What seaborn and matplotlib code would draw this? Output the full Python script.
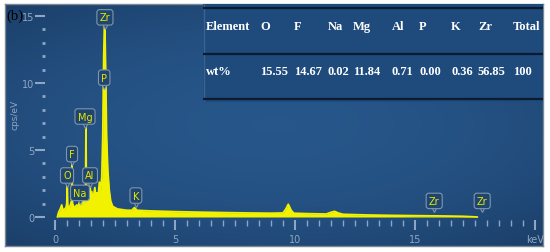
import numpy as np
import pandas as pd
import seaborn as sns
import matplotlib.pyplot as plt
from matplotlib.colors import LinearSegmentedColormap

# EDS spectrum (keV vs cps/eV)
energy_kev = [0.10, 0.15, 0.22, 0.28, 0.33, 0.40, 0.46, 0.49, 0.51, 0.53, 0.58, 0.64,
              0.69, 0.71, 0.73, 0.78, 0.84, 0.90, 0.96, 1.02, 1.06, 1.12, 1.18, 1.24,
              1.27, 1.29, 1.31, 1.36, 1.41, 1.44, 1.46, 1.48, 1.53, 1.57, 1.61, 1.66,
              1.70, 1.74, 1.80, 1.85, 1.90, 1.95, 1.99, 2.03, 2.07, 2.11, 2.15, 2.20,
              2.26, 2.32, 2.40, 2.50, 2.60, 2.80, 3.00, 3.20, 3.31, 3.42, 4.0, 5.0,
              6.0, 7.0, 8.0, 9.0, 9.5, 9.62, 9.72, 9.84, 9.95, 10.5, 11.3, 11.5,
              11.65, 11.8, 12.0, 13.0, 14.0, 15.0, 16.0, 17.0, 17.6]
counts = [0.0, 0.35, 0.6, 0.9, 0.5, 0.6, 0.7, 1.0, 2.5, 0.9, 0.6, 0.9,
          1.2, 4.1, 1.0, 0.8, 0.7, 0.9, 0.8, 1.1, 0.9, 1.0, 1.2, 1.1,
          1.6, 6.7, 1.5, 1.3, 1.4, 1.6, 2.7, 1.5, 1.9, 1.3, 1.6, 2.2,
          1.5, 1.8, 1.6, 2.6, 2.0, 3.0, 6.0, 12.0, 15.2, 11.0, 6.0, 3.5,
          2.0, 1.2, 0.8, 0.7, 0.6, 0.55, 0.5, 0.5, 0.7, 0.5, 0.45, 0.4,
          0.36, 0.33, 0.3, 0.28, 0.3, 0.6, 0.95, 0.5, 0.28, 0.25, 0.22, 0.35,
          0.42, 0.3, 0.2, 0.15, 0.12, 0.1, 0.08, 0.05, 0.0]

# peak markers
peak_names = ['Zr', 'P', 'Mg', 'F', 'O', 'Al', 'Na', 'K', 'Zr', 'Zr']
peak_x = [2.08, 2.05, 1.25, 0.71, 0.50, 1.46, 1.04, 3.37, 15.8, 17.8]
peak_y = [14.9, 10.4, 7.5, 4.7, 3.1, 3.1, 1.8, 1.6, 1.2, 1.2]

# quantification table
elements = ['O', 'F', 'Na', 'Mg', 'Al', 'P', 'K', 'Zr']
wt_pct = ['15.55', '14.67', '0.02', '11.84', '0.71', '0.00', '0.36', '56.85']
total_wt = '100'

W, H = 550, 253
axis_col = '#8ea6c4'
yellow = '#f2f200'

sns.set_theme(style="dark")
plt.rcParams['font.family'] = ['DejaVu Sans']

fig = plt.figure(figsize=(W / 100, H / 100), dpi=100, facecolor='white')

def px_rect(x0, y0, x1, y1):
    return [x0 / W, 1 - y1 / H, (x1 - x0) / W, (y1 - y0) / H]

# panel background with a soft gradient
bg_ax = fig.add_axes(px_rect(5, 5, 543, 247))
gx, gy = np.meshgrid(np.linspace(-1, 1, 200), np.linspace(-1, 1, 100))
shade = np.clip(1 - 0.35 * (gx ** 2) - 0.45 * (gy ** 2), 0, 1)
cm = LinearSegmentedColormap.from_list('bgc', ['#1b3f69', '#27568a'])
bg_ax.imshow(shade, cmap=cm, aspect='auto', extent=[0, 1, 0, 1], vmin=0.2, vmax=1)
bg_ax.set_xticks([]); bg_ax.set_yticks([])
for s in bg_ax.spines.values():
    s.set_color('#7d8790'); s.set_linewidth(1.0)

# table
tb = fig.add_axes(px_rect(203, 5, 543, 103))
tb.set_facecolor('#1e4a7c')
tb.set_xlim(203, 543); tb.set_ylim(103, 5)
tb.set_xticks([]); tb.set_yticks([])
for s in tb.spines.values():
    s.set_visible(False)
tb.axvline(203.5, color='#3c6391', lw=1)
for yy in [9, 55, 100]:
    tb.axhline(yy, color='#0c1c30', lw=1.6)
col_x = [260, 294, 328, 353, 392, 419, 451, 478]
tfont = dict(family='Liberation Serif', weight='bold', size=9, color='white', va='center')
tb.text(206, 27, 'Element', **tfont)
tb.text(206, 72, 'wt%', **tfont)
for cx, el, wv in zip(col_x, elements, wt_pct):
    tb.text(cx, 27, el, **tfont)
    tb.text(cx, 72, wv, **tfont)
tb.text(513, 27, 'Total', **tfont)
tb.text(513, 72, total_wt, **tfont)

# spectrum axes
ax = fig.add_axes([45.4 / W, 1 - 221.35 / H, (538.6 - 45.4) / W, (221.35 - 13.0) / H])
ax.set_facecolor('none')
spec = pd.DataFrame({'keV': energy_kev, 'cps': counts})
ax.fill_between(spec['keV'], 0, spec['cps'], color=yellow, lw=0, zorder=2)
sns.lineplot(data=spec, x='keV', y='cps', color=yellow, lw=1.3, ax=ax, zorder=3)
ax.set_xlim(-0.4, 20.15)
ax.set_ylim(-0.25, 15.3)
for s in ax.spines.values():
    s.set_visible(False)
ax.grid(False)
ax.set_xlabel('')
ax.set_ylabel('')

ax.set_xticks([0, 5, 10, 15, 20])
ax.set_xticklabels(['0', '5', '10', '15', 'keV'])
ax.set_xticks(np.arange(0, 20.01, 0.5), minor=True)
ax.set_yticks([0, 5, 10, 15])
ax.set_yticks(np.arange(0, 15.01, 1), minor=True)
ax.tick_params(axis='both', which='major', direction='out', length=7, width=1.5,
               color=axis_col, labelcolor=axis_col, labelsize=7, bottom=True, left=True)
ax.tick_params(axis='x', which='major', pad=3)
ax.tick_params(axis='y', which='major', pad=1)
ax.tick_params(axis='x', which='minor', direction='out', length=4, width=1,
               color=axis_col, bottom=True)
ax.tick_params(axis='y', which='minor', direction='out', length=2, width=2,
               color=axis_col, left=True)
fig.text(15 / W, 1 - 115 / H, 'cps/eV', rotation=90, color=axis_col, fontsize=6.5,
         ha='center', va='center')

# peak label boxes
for name, px_, py_ in zip(peak_names, peak_x, peak_y):
    ax.plot(px_, py_ - 0.62, marker='v', ms=4.5, mfc='#1f4670', mec='#7f95ad',
            mew=0.8, zorder=4, clip_on=False)
    ax.text(px_, py_, name, color='#e6e600', fontsize=7, ha='center', va='center',
            zorder=5, clip_on=False,
            bbox=dict(boxstyle='round,pad=0.28', fc='#1f4670', ec='#7f95ad', lw=0.8))

fig.text(6 / W, 1 - 16 / H, '(b)', family='Liberation Serif', fontsize=10.5,
         color='black', va='center', ha='left')

fig.savefig('out.png', dpi=100, facecolor='white')
